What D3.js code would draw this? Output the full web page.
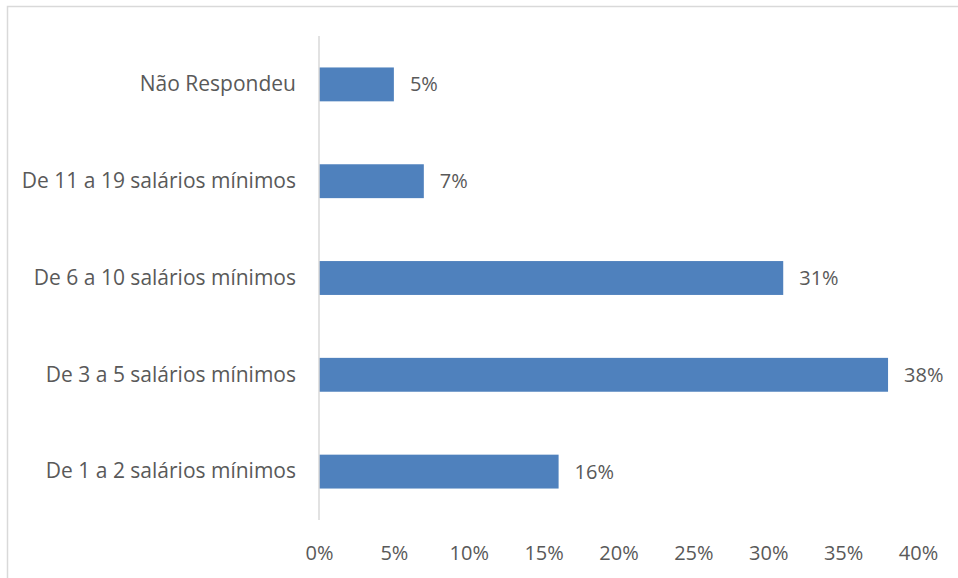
<!DOCTYPE html>
<html>
<head>
<meta charset="utf-8">
<script src="https://cdn.jsdelivr.net/npm/d3@7"></script>
<style>
  html, body { margin: 0; padding: 0; background: #fff; }
  svg { display: block; }
  text { font-family: "Open Sans", Lato, sans-serif; fill: #595959; }
</style>
</head>
<body>
<svg id="chart" width="958" height="578"></svg>
<script>
// Renda familiar: faixas de salário mínimo (de cima para baixo)
const categories = [
  "Não Respondeu",
  "De 11 a 19 salários mínimos",
  "De 6 a 10 salários mínimos",
  "De 3 a 5 salários mínimos",
  "De 1 a 2 salários mínimos"
];
const values = [5, 7, 31, 38, 16];
const tickValues = [0, 5, 10, 15, 20, 25, 30, 35, 40];

const labelSize = 21;
const tickSize = 20;
const svg = d3.select("#chart");

// chart frame
svg.append("rect")
  .attr("x", 7.5).attr("y", 6.5)
  .attr("width", 960).attr("height", 580)
  .attr("fill", "none")
  .attr("stroke", "#d9d9d9")
  .attr("stroke-width", 1.5);

const x = d3.scaleLinear().domain([0, 40]).range([319, 918]);
const y = d3.scaleBand().domain(categories).range([36, 520]).paddingInner(0.65).paddingOuter(0.325);

// bars
svg.append("g").selectAll("rect")
  .data(categories)
  .join("rect")
  .attr("x", x(0))
  .attr("y", d => y(d))
  .attr("width", (d, i) => x(values[i]) - x(0))
  .attr("height", y.bandwidth())
  .attr("fill", "#4f81bd");

// vertical category axis line
svg.append("line")
  .attr("x1", x(0)).attr("x2", x(0))
  .attr("y1", 36).attr("y2", 520)
  .attr("stroke", "#d9d9d9")
  .attr("stroke-width", 1.5);

// category labels
const yAxis = d3.axisLeft(y).tickSize(0).tickPadding(23);
const gy = svg.append("g").attr("transform", `translate(${x(0)},0)`).call(yAxis);
gy.select(".domain").remove();
gy.selectAll("text").attr("font-size", labelSize).attr("font-family", null).attr("fill", "#595959");

// value axis labels
const xAxis = d3.axisBottom(x).tickValues(tickValues).tickSize(0).tickPadding(0)
  .tickFormat(d => d + "%");
const gx = svg.append("g").attr("transform", `translate(0,546)`).call(xAxis);
gx.select(".domain").remove();
gx.selectAll("text").attr("font-size", tickSize).attr("font-family", null).attr("fill", "#595959")
  .attr("dy", "0.35em").attr("y", 7);

// value labels
svg.append("g").selectAll("text")
  .data(categories)
  .join("text")
  .attr("x", (d, i) => x(values[i]) + 16)
  .attr("y", d => y(d) + y.bandwidth() / 2)
  .attr("dy", "0.35em")
  .attr("font-size", tickSize)
  .text((d, i) => values[i] + "%");
</script>
</body>
</html>
